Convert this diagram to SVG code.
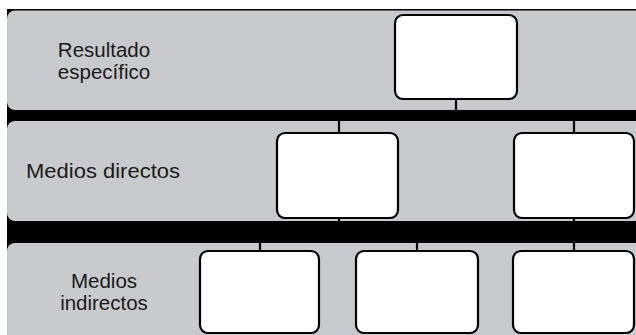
<svg xmlns="http://www.w3.org/2000/svg" width="636" height="335" viewBox="0 0 636 335">
<style>
.band{fill:#c7c9cc}
.box{fill:#ffffff;stroke:#000;stroke-width:2.2}
.lbl{font-family:"Liberation Sans",Arial,sans-serif;font-size:20.5px;fill:#1a1a1a;text-anchor:middle}
.con{stroke:#000;stroke-width:2.2;fill:none}
</style>
<rect width="636" height="335" fill="#ffffff"/>
<g id="bands">
<rect x="7" y="9" width="640" height="330" fill="#000"/>
<rect class="band" x="7" y="10.5" width="650" height="99.5" rx="8"/>
<rect class="band" x="7" y="121" width="650" height="100" rx="8"/>
<rect class="band" x="7" y="243" width="650" height="110" rx="8"/>
</g>
<g id="connectors">
<line class="con" x1="456" y1="99" x2="456" y2="111"/>
<line class="con" x1="339" y1="120" x2="339" y2="133"/>
<line class="con" x1="574" y1="120" x2="574" y2="133"/>
<line class="con" x1="339" y1="218" x2="339" y2="222"/>
<line class="con" x1="574" y1="218" x2="574" y2="222"/>
<line class="con" x1="260" y1="242" x2="260" y2="251"/>
<line class="con" x1="417" y1="242" x2="417" y2="251"/>
<line class="con" x1="574" y1="242" x2="574" y2="251"/>
</g>
<g id="label-resultado">
<text class="lbl" x="104" y="57">Resultado</text>
<text class="lbl" x="104" y="79">específico</text>
</g>
<g id="label-directos">
<text class="lbl" x="103" y="178" textLength="154" lengthAdjust="spacingAndGlyphs">Medios directos</text>
</g>
<g id="label-indirectos">
<text class="lbl" x="104" y="288">Medios</text>
<text class="lbl" x="104" y="310">indirectos</text>
</g>
<g id="node-resultado"><rect class="box" x="395" y="15" width="122" height="84" rx="8"/></g>
<g id="node-directo-1"><rect class="box" x="277" y="133" width="121" height="85" rx="8"/></g>
<g id="node-directo-2"><rect class="box" x="514" y="133" width="120" height="85" rx="8"/></g>
<g id="node-indirecto-1"><rect class="box" x="200" y="251" width="119" height="82" rx="8"/></g>
<g id="node-indirecto-2"><rect class="box" x="356" y="251" width="122" height="82" rx="8"/></g>
<g id="node-indirecto-3"><rect class="box" x="513" y="251" width="121" height="82" rx="8"/></g>
</svg>
